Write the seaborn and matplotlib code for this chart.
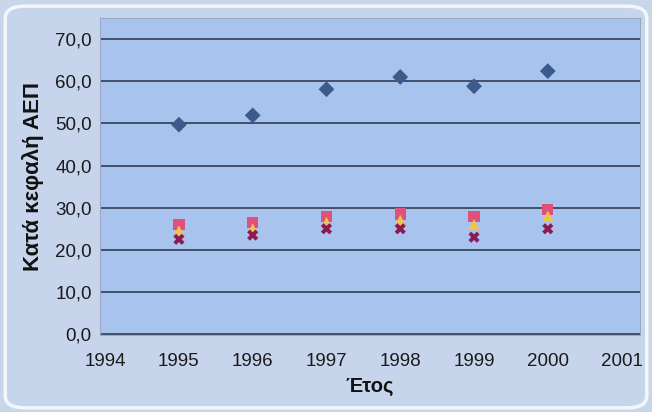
import matplotlib
matplotlib.use("Agg")
import matplotlib.pyplot as plt
import seaborn as sns
import pandas as pd
from matplotlib.patches import FancyBboxPatch
from matplotlib.ticker import FuncFormatter

years = [1995, 1996, 1997, 1998, 1999, 2000]
series_a = [49.7, 51.9, 58.1, 61.0, 58.8, 62.4]   # blue diamonds
series_b = [26.0, 26.5, 28.0, 28.5, 28.0, 29.5]   # pink squares
series_c = [24.5, 25.0, 26.5, 27.0, 26.0, 28.0]   # yellow triangles
series_d = [22.5, 23.5, 25.0, 25.0, 23.0, 25.0]   # purple crosses
series_names = ["A", "B", "C", "D"]
y_ticks = [0, 10, 20, 30, 40, 50, 60, 70]
x_ticks = [1994, 1995, 1996, 1997, 1998, 1999, 2000, 2001]

rows = []
for name, vals in zip(series_names, [series_a, series_b, series_c, series_d]):
    for yr, v in zip(years, vals):
        rows.append({"year": yr, "value": v, "series": name})
df = pd.DataFrame(rows)

sns.set_theme(style="white")
plt.rcParams["font.family"] = ["Liberation Sans", "DejaVu Sans"]

W, H = 652, 412
fig = plt.figure(figsize=(6.52, 4.12), dpi=100)
fig.patch.set_facecolor("#c9d6ea")
frame = FancyBboxPatch((0.008, 0.01), 0.984, 0.975, boxstyle="round,pad=0,rounding_size=0.03",
                       transform=fig.transFigure, facecolor="#c7d5ec", edgecolor="#f4f6fa",
                       linewidth=2.5, zorder=-10)
fig.patches.append(frame)

ax = fig.add_axes([100 / W, (H - 335) / H, (640 - 100) / W, (335 - 18) / H])
ax.set_facecolor("#a8c4ee")

palette = {"A": "#3d5a8c", "B": "#e0507a", "C": "#f2c24e", "D": "#8b1a55"}
markers = {"A": "D", "B": "s", "C": "^", "D": "X"}
sns.scatterplot(data=df, x="year", y="value", hue="series", style="series",
                palette=palette, markers=markers, s=65, edgecolor="none",
                legend=False, ax=ax, zorder=5)

ax.set_xlim(1993.93, 2001.25)
ax.set_ylim(-0.2, 75.0)
ax.set_xticks(x_ticks)
ax.set_yticks(y_ticks)
ax.yaxis.set_major_formatter(FuncFormatter(lambda v, p: f"{v:.1f}".replace(".", ",")))
ax.grid(axis="y", color="#3a4660", linewidth=1.3)
ax.grid(axis="x", visible=False)
ax.set_axisbelow(True)
for side in ["top", "right", "left", "bottom"]:
    ax.spines[side].set_color("#9aa8c2")
    ax.spines[side].set_linewidth(0.8)
ax.tick_params(axis="both", labelsize=13.5, colors="#1a1a1a", length=3, direction="out")
ax.tick_params(axis="x", pad=13, length=0)
ax.tick_params(axis="y", pad=6, length=0)

ax.set_xlabel("Έτος", fontsize=14.5, fontweight="bold", labelpad=5, color="#111111")
ax.set_ylabel("Κατά κεφαλή ΑΕΠ", fontsize=16, fontweight="bold", labelpad=8, color="#111111")

fig.savefig("out.png", dpi=100, facecolor=fig.get_facecolor())
